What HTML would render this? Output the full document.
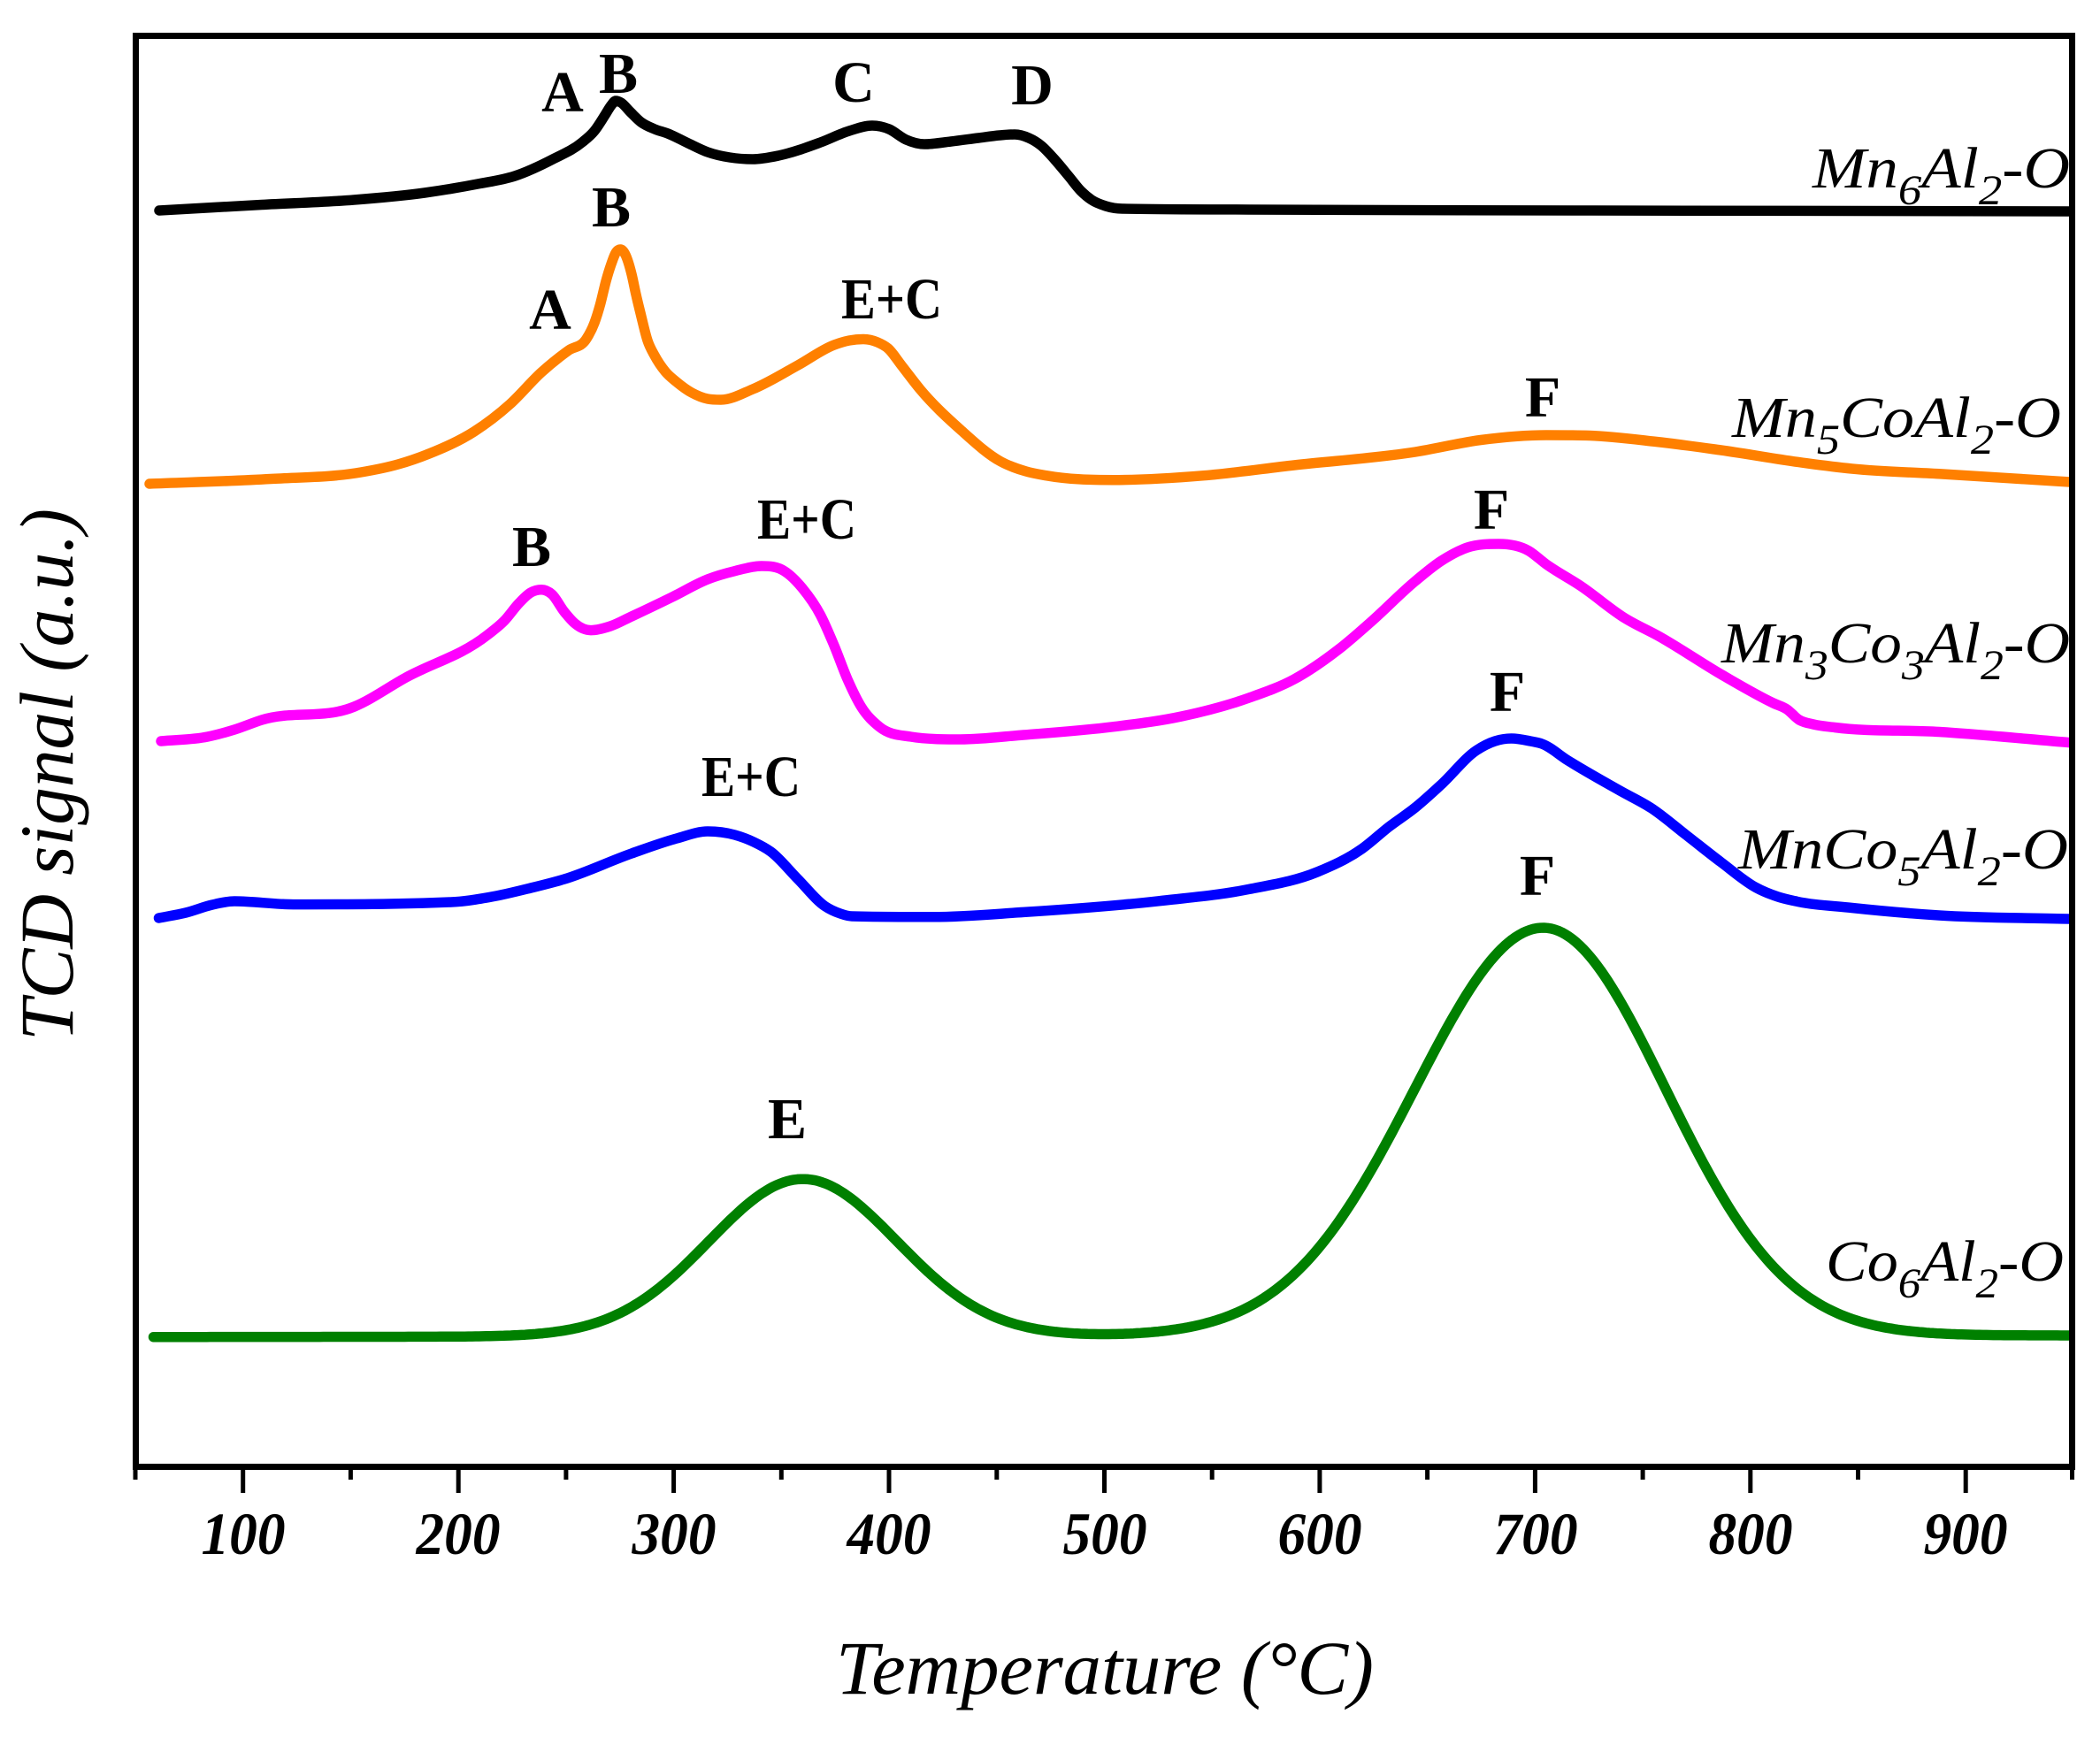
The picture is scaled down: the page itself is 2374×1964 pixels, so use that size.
<!DOCTYPE html>
<html><head><meta charset="utf-8"><style>
html,body{margin:0;padding:0;background:#fff;}
svg{display:block;}
.pk{font-family:"Liberation Serif",serif;font-weight:bold;font-size:66px;fill:#000;}
.nm{font-family:"Liberation Serif",serif;font-style:italic;font-size:66px;fill:#000;}
.tk{font-family:"Liberation Serif",serif;font-style:italic;font-weight:bold;font-size:68px;fill:#000;}
.s{fill:none;stroke-width:11.5;stroke-linecap:round;stroke-linejoin:round;}
</style></head><body>
<svg id="c" width="2374" height="1964" viewBox="0 0 2374 1964" xmlns="http://www.w3.org/2000/svg">
<rect width="2374" height="1964" fill="#fff"/>

<!-- curves -->
<polyline class="s" stroke="#000000" points="180,238 296,231.5 400,226 480,218 540,208 582,199 625,180 658,161 672,148 684,130 691,119 696,114 702,116 712,126 724.5,138 740,146 755,151 778,162 800,172 825,178 851,180 880,176 927.5,161 960,148 986,142 1005,146 1024.5,158 1045,163 1075,160 1106,156 1130,153 1147,152 1163,156 1177.5,165 1192,180 1208,199 1222,216 1234,226 1250,233 1269,236 1412,237 1800,238 2340,239"/>
<polyline class="s" stroke="#FF8000" points="169,547 306,541.5 408,534 450,525 485,513 536,488 576.5,457 612,421 643,396 663,383 672,365 678.6,344 685,318 691,298.5 696,286 701.5,282 707,288 714,310 719,333 724.5,356 732,385 740,402 752,420 765,432 782,444 800,451 815,452 851,440 902,413 943,390 960,385 976,383.5 992,387 1004,394 1019,413 1040,440 1086,486 1131.6,522 1160,533 1182.6,537.7 1259,542.7 1361,537.7 1463,526 1600,511 1674,497.5 1748,492 1797,492.5 1871.5,499.4 1945.5,509 2044,524 2093.6,530 2192,535.8 2340,545"/>
<polyline class="s" stroke="#FF00FF" points="182,838 234.7,833 265,825 296,814 400.5,799 459,766 551,718 570,702 586.7,682 600,670 612,666.7 624,672 637.8,691.6 650,705 668,712.6 690,708 714,697 760,675 800,655 830.6,645.7 861,640 886.7,645.7 907,665 927.5,695.4 943,730 958,768 973.5,799 994,821.7 1029.6,833 1085.7,836 1157,831 1259,821.7 1335.7,810 1412,789 1463,768 1514,733.7 1550,703 1600,657 1629.6,634 1659,619 1694,615 1728,622.7 1748,638 1787.6,663 1837,699 1876.4,720 1945.5,762.4 2004.7,795 2020,802 2034,814 2050,819 2074,822.5 2192,827.5 2340,839.7"/>
<polyline class="s" stroke="#0000FF" points="179.5,1038 210,1032 240,1023 265,1019 331.6,1022.6 510,1020 561,1013 600,1004 638,994 714,965 765,948 800,940 830.6,944 852,952 871.4,963 902,994 932.6,1024.6 950,1033 963,1036 1055,1036.8 1157,1031.4 1310,1018.8 1412,1005.4 1489,986 1540,959.5 1570,935 1600,913 1629.6,886.8 1669,848.5 1690,838 1708.6,835 1730,838 1743,841 1772.7,860 1832,894.4 1866.5,913.6 1906,944 1945.5,974.8 1985,1003.5 2010,1014 2029,1018.8 2093.6,1026.5 2192,1035 2340,1039"/>
<polyline id="green" class="s" stroke="#008000" points="173.5,1511.7 500.8,1511.7 606,1506.7 676,1493 715,1478 746,1460 772,1437 795.4,1410 817,1385 837.5,1366.7 855,1350 872.5,1340 890,1335 907.6,1334 930,1338 950,1346.7 970,1360 991.8,1380 1020,1408 1048,1436.7 1072,1458 1097,1473 1125,1488 1153,1496.7 1200,1505 1250,1508.5 1393,1491 1430,1470 1465,1438 1495,1405 1522,1368 1550,1322 1572.6,1280.6 1600,1228 1622.8,1182 1645,1140 1665.8,1105 1688,1076 1708.8,1059.6 1725,1052 1744.6,1050 1765,1055 1794.8,1070 1815,1095 1837.8,1133 1860,1177 1880.8,1224.5 1900,1267 1924,1315.7 1945,1353 1967,1385.8 1995,1420 2024,1449 2060,1472 2096,1487.5 2140,1499 2182,1505 2260,1508 2340,1510"/>

<!-- frame -->
<rect x="153.5" y="40.5" width="2189" height="1618" fill="none" stroke="#000" stroke-width="7"/>

<!-- ticks -->
<g stroke="#000" stroke-width="5">
<line x1="153" y1="1660" x2="153" y2="1673"/>
<line x1="274.7" y1="1660" x2="274.7" y2="1688"/>
<line x1="396.4" y1="1660" x2="396.4" y2="1673"/>
<line x1="518.2" y1="1660" x2="518.2" y2="1688"/>
<line x1="639.9" y1="1660" x2="639.9" y2="1673"/>
<line x1="761.6" y1="1660" x2="761.6" y2="1688"/>
<line x1="883.3" y1="1660" x2="883.3" y2="1673"/>
<line x1="1005.0" y1="1660" x2="1005.0" y2="1688"/>
<line x1="1126.8" y1="1660" x2="1126.8" y2="1673"/>
<line x1="1248.5" y1="1660" x2="1248.5" y2="1688"/>
<line x1="1370.2" y1="1660" x2="1370.2" y2="1673"/>
<line x1="1491.9" y1="1660" x2="1491.9" y2="1688"/>
<line x1="1613.6" y1="1660" x2="1613.6" y2="1673"/>
<line x1="1735.4" y1="1660" x2="1735.4" y2="1688"/>
<line x1="1857.1" y1="1660" x2="1857.1" y2="1673"/>
<line x1="1978.8" y1="1660" x2="1978.8" y2="1688"/>
<line x1="2100.5" y1="1660" x2="2100.5" y2="1673"/>
<line x1="2222.2" y1="1660" x2="2222.2" y2="1688"/>
<line x1="2342.5" y1="1660" x2="2342.5" y2="1673"/>
</g>

<!-- tick labels -->
<g class="tk" text-anchor="middle">
<text x="275" y="1757" textLength="95" lengthAdjust="spacingAndGlyphs">100</text>
<text x="518" y="1757" textLength="95" lengthAdjust="spacingAndGlyphs">200</text>
<text x="762" y="1757" textLength="95" lengthAdjust="spacingAndGlyphs">300</text>
<text x="1005" y="1757" textLength="95" lengthAdjust="spacingAndGlyphs">400</text>
<text x="1249" y="1757" textLength="95" lengthAdjust="spacingAndGlyphs">500</text>
<text x="1492" y="1757" textLength="95" lengthAdjust="spacingAndGlyphs">600</text>
<text x="1736" y="1757" textLength="95" lengthAdjust="spacingAndGlyphs">700</text>
<text x="1979" y="1757" textLength="95" lengthAdjust="spacingAndGlyphs">800</text>
<text x="2222" y="1757" textLength="95" lengthAdjust="spacingAndGlyphs">900</text>
</g>

<!-- axis titles -->
<text x="945" y="1915" font-family="Liberation Serif, serif" font-style="italic" font-size="86" textLength="608" lengthAdjust="spacingAndGlyphs">Temperature (°C)</text>
<text transform="translate(82,1177) rotate(-90)" x="0" y="0" font-family="Liberation Serif, serif" font-style="italic" font-size="86" textLength="602" lengthAdjust="spacingAndGlyphs">TCD signal (a.u.)</text>

<!-- peak labels -->
<g class="pk" text-anchor="middle">
<text x="636" y="126">A</text>
<text x="699" y="105">B</text>
<text x="965" y="115">C</text>
<text x="1167" y="118">D</text>
<text x="691" y="256">B</text>
<text x="622" y="372">A</text>
<text x="1744" y="471">F</text>
<text x="601" y="640">B</text>
<text x="1686" y="598">F</text>
<text x="1704" y="804">F</text>
<text x="890" y="1287">E</text>
<text x="1738" y="1012">F</text>
</g>
<g class="pk">
<text x="951" y="360" textLength="114" lengthAdjust="spacingAndGlyphs">E+C</text>
<text x="856" y="609" textLength="112" lengthAdjust="spacingAndGlyphs">E+C</text>
<text x="793" y="900" textLength="112" lengthAdjust="spacingAndGlyphs">E+C</text>
</g>

<!-- sample names -->
<g class="nm">
<text x="2049" y="212" textLength="291" lengthAdjust="spacingAndGlyphs">Mn<tspan font-size="48" dy="19">6</tspan><tspan dy="-19">Al</tspan><tspan font-size="48" dy="19">2</tspan><tspan dy="-19">-O</tspan></text>
<text x="1958" y="494" textLength="372" lengthAdjust="spacingAndGlyphs">Mn<tspan font-size="48" dy="19">5</tspan><tspan dy="-19">CoAl</tspan><tspan font-size="48" dy="19">2</tspan><tspan dy="-19">-O</tspan></text>
<text x="1946" y="749" textLength="394" lengthAdjust="spacingAndGlyphs">Mn<tspan font-size="48" dy="19">3</tspan><tspan dy="-19">Co</tspan><tspan font-size="48" dy="19">3</tspan><tspan dy="-19">Al</tspan><tspan font-size="48" dy="19">2</tspan><tspan dy="-19">-O</tspan></text>
<text x="1965" y="982" textLength="373" lengthAdjust="spacingAndGlyphs">MnCo<tspan font-size="48" dy="19">5</tspan><tspan dy="-19">Al</tspan><tspan font-size="48" dy="19">2</tspan><tspan dy="-19">-O</tspan></text>
<text x="2064" y="1448" textLength="269" lengthAdjust="spacingAndGlyphs">Co<tspan font-size="48" dy="19">6</tspan><tspan dy="-19">Al</tspan><tspan font-size="48" dy="19">2</tspan><tspan dy="-19">-O</tspan></text>
</g>
</svg>
<script>
(function(){
  var NS='http://www.w3.org/2000/svg';
  var svg=document.getElementById('c');
  var g=document.getElementById('green');
  if(g){
    var pts=[];
    for(var x=173.5;x<=2340;x+=4){
      var e=178*Math.exp(-Math.pow(x-907.6,2)/(2*106*106));
      var s=x<1744.6?145:138;
      var f=461.5*Math.exp(-Math.pow(x-1744.6,2)/(2*s*s));
      var base=1511.7-(x-173.5)*(1.7/2166.5);
      pts.push(x.toFixed(1)+','+(base-e-f).toFixed(1));
    }
    pts.push('2340,'+(1510-461.5*Math.exp(-Math.pow(2340-1744.6,2)/(2*138*138))).toFixed(1));
    var gp=document.createElementNS(NS,'polyline');
    gp.setAttribute('points',pts.join(' '));
    gp.setAttribute('class','s');
    gp.setAttribute('stroke','#008000');
    g.parentNode.replaceChild(gp,g);
  }
  var pls=svg.querySelectorAll('polyline.s');
  for(var k=0;k<pls.length;k++){
    var pl=pls[k];
    var P=pl.getAttribute('points').trim().split(/\s+/).map(function(s){var a=s.split(',');return [parseFloat(a[0]),parseFloat(a[1])];});
    var n=P.length;
    if(n<3||n>200)continue;
    var h=[],dd=[];
    for(var i=0;i<n-1;i++){h[i]=P[i+1][0]-P[i][0];dd[i]=(P[i+1][1]-P[i][1])/h[i];}
    var m=[];
    m[0]=dd[0];m[n-1]=dd[n-2];
    for(var i=1;i<n-1;i++){
      var a=dd[i-1],b=dd[i];
      var v=(a*h[i]+b*h[i-1])/(h[i-1]+h[i]);
      if(a*b<=0){v=0;}
      else{
        var lim=3*Math.min(Math.abs(a),Math.abs(b));
        if(Math.abs(v)>lim)v=(v>0?1:-1)*lim;
      }
      m[i]=v;
    }
    var d='M'+P[0][0]+','+P[0][1];
    for(var i=0;i<n-1;i++){
      var c1x=P[i][0]+h[i]/3,c1y=P[i][1]+m[i]*h[i]/3;
      var c2x=P[i+1][0]-h[i]/3,c2y=P[i+1][1]-m[i+1]*h[i]/3;
      d+=' C'+c1x.toFixed(1)+','+c1y.toFixed(1)+' '+c2x.toFixed(1)+','+c2y.toFixed(1)+' '+P[i+1][0]+','+P[i+1][1];
    }
    var p=document.createElementNS(NS,'path');
    p.setAttribute('d',d);
    p.setAttribute('class','s');
    p.setAttribute('stroke',pl.getAttribute('stroke'));
    pl.parentNode.replaceChild(p,pl);
  }
})();
</script>
</body></html>
